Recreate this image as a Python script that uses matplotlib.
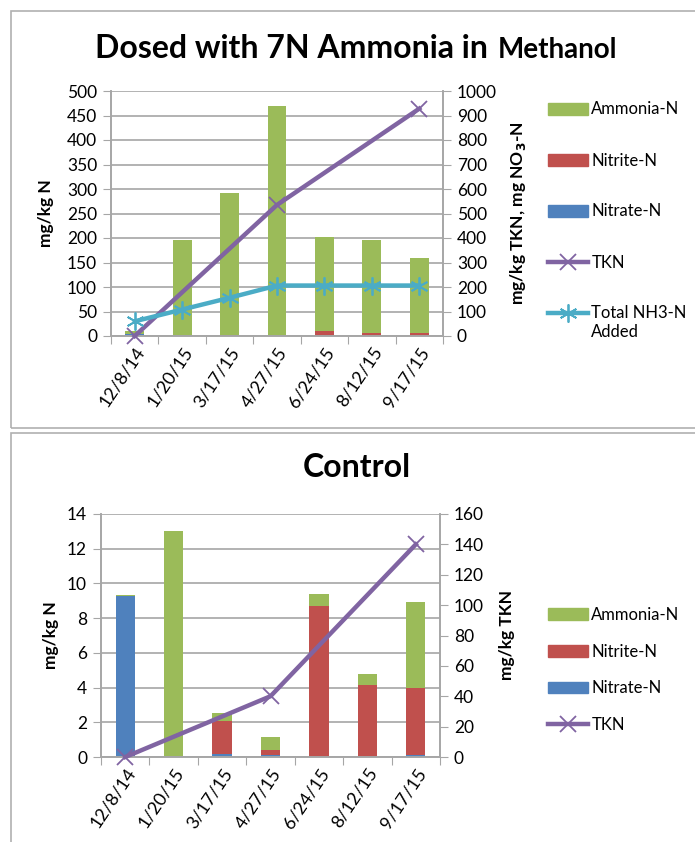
import numpy as np
import matplotlib
matplotlib.use("Agg")
import matplotlib.pyplot as plt
from matplotlib.patches import Rectangle, Patch
from matplotlib.lines import Line2D

plt.rcParams['font.family'] = ['Lato', 'DejaVu Sans']

dates = ["12/8/14", "1/20/15", "3/17/15", "4/27/15", "6/24/15", "8/12/15", "9/17/15"]

# Dosed panel (mg/kg N)
dosed_nitrate = [5, 0, 0, 0, 0, 0, 0]
dosed_nitrite = [0, 0, 3, 0, 10, 6, 6]
dosed_ammonia = [5, 195, 289, 470, 193, 189, 153]
dosed_tkn = [0, np.nan, np.nan, 535, np.nan, np.nan, 928]
dosed_nh3_added = [60, 108, 156, 206, 206, 206, 206]

# Control panel (mg/kg N)
ctrl_nitrate = [9.25, 0, 0.15, 0.1, 0, 0, 0.1]
ctrl_nitrite = [0, 0, 1.9, 0.28, 8.7, 4.12, 3.87]
ctrl_ammonia = [0.11, 13.03, 0.5, 0.77, 0.67, 0.68, 4.97]
ctrl_tkn = [0, np.nan, np.nan, 40, np.nan, np.nan, 140]

GREEN = "#9BBB59"
RED = "#C0504D"
BLUE = "#4F81BD"
PURPLE = "#8064A2"
AQUA = "#4BACC6"
GRID = "#A6A6A6"

W, H = 695, 842
fig = plt.figure(figsize=(W / 100, H / 100), dpi=100)


def fax(x0, y0, x1, y1):
    return fig.add_axes([x0 / W, 1 - y1 / H, (x1 - x0) / W, (y1 - y0) / H])


# panel borders
fig.add_artist(Rectangle((10.5 / W, 1 - 428 / H), 700 / W, (428 - 11) / H,
                         transform=fig.transFigure, fill=False, ec="#B0B0B0", lw=1.2))
fig.add_artist(Rectangle((10.5 / W, -0.05), 700 / W, 0.05 + (842 - 433) / H,
                         transform=fig.transFigure, fill=False, ec="#B0B0B0", lw=1.2))

STAR = (6, 2, 0)


def style_axes(ax, ax2, ymax, ystep, y2max, y2step):
    x = np.arange(len(dates))
    ax.set_xlim(-0.5, len(dates) - 0.5)
    ax.set_ylim(0, ymax)
    ax.set_yticks(np.arange(0, ymax + ystep / 2, ystep))
    ax2.set_ylim(0, y2max)
    ax2.set_yticks(np.arange(0, y2max + y2step / 2, y2step))
    ax.set_xticks(np.arange(-0.5, len(dates), 1))
    ax.set_xticklabels([])
    ax.set_xticks(x, minor=True)
    ax.set_xticklabels(dates, minor=True, rotation=56, ha='right', va='top',
                       rotation_mode='anchor', fontsize=13)
    ax.tick_params(axis='x', which='major', length=6, color=GRID, direction='out')
    ax.tick_params(axis='x', which='minor', length=0, pad=6)
    ax.tick_params(axis='y', length=6, color=GRID, labelsize=12.5, pad=4)
    ax2.tick_params(axis='y', length=6, color=GRID, labelsize=12.5, pad=4)
    ax.yaxis.grid(True, color=GRID, lw=1.2)
    ax.set_axisbelow(True)
    for a in (ax, ax2):
        a.spines['top'].set_visible(False)
        for s in ('left', 'right', 'bottom'):
            a.spines[s].set_color(GRID)
            a.spines[s].set_linewidth(1.2)


def bars(ax, nitrate, nitrite, ammonia):
    x = np.arange(len(dates))
    nitrate = np.array(nitrate)
    nitrite = np.array(nitrite)
    ammonia = np.array(ammonia)
    ax.bar(x, nitrate, 0.4, color=BLUE, zorder=2)
    ax.bar(x, nitrite, 0.4, bottom=nitrate, color=RED, zorder=2)
    ax.bar(x, ammonia, 0.4, bottom=nitrate + nitrite, color=GREEN, zorder=2)


def line(ax, vals, color, marker, ms):
    x = np.arange(len(dates))
    v = np.array(vals, dtype=float)
    m = ~np.isnan(v)
    ax.plot(x[m], v[m], color=color, lw=3.2, marker=marker, ms=ms, mew=1.3,
            clip_on=False, zorder=3)


# ---------- Top panel ----------
ax1 = fax(111, 91, 443, 336)
ax1b = ax1.twinx()
bars(ax1, dosed_nitrate, dosed_nitrite, dosed_ammonia)
line(ax1b, dosed_tkn, PURPLE, 'x', 11)
line(ax1b, dosed_nh3_added, AQUA, STAR, 13)
style_axes(ax1, ax1b, 500, 50, 1000, 100)
ax1.set_ylabel("mg/kg N", fontsize=12.5, fontweight='bold', labelpad=9)
ax1b.set_ylabel("mg/kg TKN, mg NO$_\\mathbf{3}$-N", fontsize=12.5, fontweight='bold', labelpad=8)

fig.text(488 / W, 1 - 48 / H, "Dosed with 7N Ammonia in", ha='right', va='center',
         fontsize=23, fontweight='bold')
fig.text(498 / W, 1 - 50 / H, "Methanol", ha='left', va='center',
         fontsize=20, fontweight='bold')

h_top = [Patch(color=GREEN), Patch(color=RED), Patch(color=BLUE),
         Line2D([], [], color=PURPLE, lw=3.2, marker='x', ms=11, mew=1.3),
         Line2D([], [], color=AQUA, lw=3.2, marker=STAR, ms=13, mew=1.3)]
fig.legend(h_top, ["Ammonia-N", "Nitrite-N", "Nitrate-N", "TKN", "Total NH3-N"],
           loc='center left', bbox_to_anchor=(548 / W, 1 - 211.5 / H), frameon=False,
           fontsize=12, handlelength=2.4, handletextpad=0.2, labelspacing=2.1,
           borderpad=0, borderaxespad=0)
fig.text(591 / W, 1 - 332 / H, "Added", ha='left', va='center', fontsize=12)

# ---------- Bottom panel ----------
ax2 = fax(101, 514, 440, 757)
ax2b = ax2.twinx()
bars(ax2, ctrl_nitrate, ctrl_nitrite, ctrl_ammonia)
line(ax2b, ctrl_tkn, PURPLE, 'x', 11)
style_axes(ax2, ax2b, 14, 2, 160, 20)
ax2.set_ylabel("mg/kg N", fontsize=12.5, fontweight='bold', labelpad=6)
ax2b.set_ylabel("mg/kg TKN", fontsize=12.5, fontweight='bold', labelpad=11)

fig.text(357 / W, 1 - 468 / H, "Control", ha='center', va='center',
         fontsize=23, fontweight='bold')

h_bot = h_top[:4]
fig.legend(h_bot, ["Ammonia-N", "Nitrite-N", "Nitrate-N", "TKN"],
           loc='center left', bbox_to_anchor=(548 / W, 1 - 670 / H), frameon=False,
           fontsize=12, handlelength=2.4, handletextpad=0.2, labelspacing=1.25,
           borderpad=0, borderaxespad=0)

fig.savefig("out.png", dpi=100)
